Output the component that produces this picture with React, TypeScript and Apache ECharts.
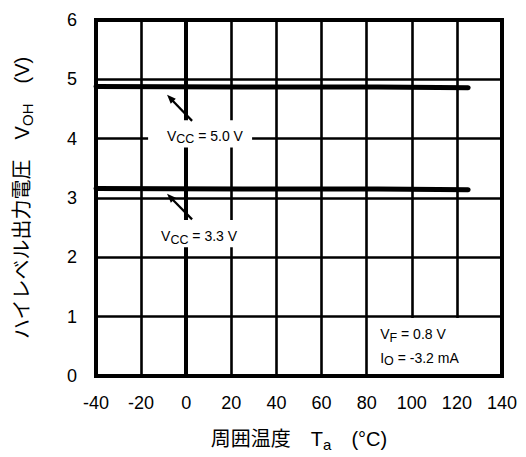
import React, { useEffect, useRef } from 'react';
import * as echarts from 'echarts';

// ---- data ----
const xTickValues = [-40, -20, 0, 20, 40, 60, 80, 100, 120, 140];
const yTickValues = [0, 1, 2, 3, 4, 5, 6];
const temperatures = [-40, 25, 85, 125];
const vcc50Values = [4.88, 4.87, 4.87, 4.86];
const vcc33Values = [3.16, 3.15, 3.15, 3.14];

const FONT = '"Liberation Sans", Arial, "Noto Sans CJK JP", sans-serif';

// annotation anchors in data coordinates
const ann50 = { text: [8.3, 4.05], box: [[-16.9, 4.31], [29.2, 3.85]], tail: [2.6, 4.3], head: [-8.5, 4.74] };
const ann33 = { text: [5.7, 2.36], box: [[-16.9, 2.63], [29.2, 2.17]], tail: [2.6, 2.64], head: [-8.5, 3.07] };
const condBox = [[80, 1], [140, 0]];
const condText1 = [86, 0.7];
const condText2 = [86, 0.31];

const subRich = {
  v: { fontSize: 14, lineHeight: 20, verticalAlign: 'middle', fontFamily: FONT, fill: '#000' },
  s: { fontSize: 12.5, lineHeight: 15, verticalAlign: 'bottom', fontFamily: FONT, fill: '#000' },
};

const nameRich = {
  t: { fontSize: 20, lineHeight: 26, verticalAlign: 'middle', fontFamily: FONT, color: '#000' },
  s: { fontSize: 15, lineHeight: 18, verticalAlign: 'bottom', fontFamily: FONT, color: '#000' },
};

export default function App() {
  const ref = useRef<HTMLDivElement>(null);
  useEffect(() => {
    if (!ref.current) return;
    const chart = echarts.init(ref.current, null, { renderer: 'svg' });
    const mkSeries = (vals: number[]) => ({
      type: 'line',
      data: temperatures.map((t, i) => [t, vals[i]]),
      symbol: 'none',
      lineStyle: { color: '#000', width: 5, cap: 'round' },
      z: 5,
    });
    chart.setOption({
      animation: false,
      grid: {
        left: 96, right: 24, top: 20, bottom: 74,
        show: true, borderColor: '#000', borderWidth: 4, backgroundColor: '#fff',
      },
      xAxis: {
        type: 'value', min: -40, max: 140, interval: 20,
        axisLine: { show: true, lineStyle: { color: '#000', width: 4 } },
        axisTick: { show: false },
        splitLine: { show: true, lineStyle: { color: '#000', width: 2.6 } },
        axisLabel: {
          color: '#000', fontSize: 18, fontFamily: FONT, margin: 18,
          formatter: (v: number) => (xTickValues.includes(v) ? String(v) : ''),
        },
        name: '{t|周囲温度　T}{s|a}{t|　(°C)}',
        nameLocation: 'middle',
        nameGap: 50,
        nameTextStyle: { color: '#000', fontSize: 20, fontFamily: FONT, rich: nameRich },
      },
      yAxis: {
        type: 'value', min: 0, max: 6, interval: 1,
        axisLine: { show: true, lineStyle: { color: '#000', width: 4 } },
        axisTick: { show: false },
        splitLine: { show: true, lineStyle: { color: '#000', width: 2.6 } },
        axisLabel: {
          color: '#000', fontSize: 18, fontFamily: FONT, margin: 19,
          formatter: (v: number) => (yTickValues.includes(v) ? String(v) : ''),
        },
        name: '{t|ハイレベル出力電圧　V}{s|OH}{t|　(V)}',
        nameLocation: 'middle',
        nameRotate: 90,
        nameGap: 61,
        nameTextStyle: { color: '#000', fontSize: 20, fontFamily: FONT, rich: nameRich },
      },
      series: [mkSeries(vcc50Values), mkSeries(vcc33Values)],
    });

    const px = (p: number[]) => chart.convertToPixel({ gridIndex: 0 }, p) as number[];
    const els: any[] = [];
    const addAnn = (a: any, label: string) => {
      const b0 = px(a.box[0]);
      const b1 = px(a.box[1]);
      els.push({
        type: 'rect', z: 50,
        shape: { x: b0[0], y: b0[1], width: b1[0] - b0[0], height: b1[1] - b0[1] },
        style: { fill: '#fff' },
      });
      const tp = px(a.text);
      els.push({
        type: 'text', z: 60, x: tp[0], y: tp[1],
        style: {
          text: `{v|V}{s|CC}{v| = ${label}}`,
          rich: subRich, align: 'center', verticalAlign: 'middle',
        },
      });
      const t = px(a.tail);
      const h = px(a.head);
      const dx = h[0] - t[0], dy = h[1] - t[1];
      const len = Math.hypot(dx, dy);
      const ux = dx / len, uy = dy / len;
      const nx = -uy, ny = ux;
      const L = 9, W = 3.5;
      els.push({
        type: 'line', z: 60,
        shape: { x1: t[0], y1: t[1], x2: h[0] - ux * L * 0.6, y2: h[1] - uy * L * 0.6 },
        style: { stroke: '#000', lineWidth: 2.2 },
      });
      els.push({
        type: 'polygon', z: 60,
        shape: { points: [[h[0], h[1]], [h[0] - ux * L + nx * W, h[1] - uy * L + ny * W], [h[0] - ux * L - nx * W, h[1] - uy * L - ny * W]] },
        style: { fill: '#000' },
      });
    };
    addAnn(ann50, '5.0 V');
    addAnn(ann33, '3.3 V');

    const c0 = px(condBox[0]);
    const c1 = px(condBox[1]);
    els.push({
      type: 'rect', z: 50,
      shape: { x: c0[0] + 1.4, y: c0[1] + 1.4, width: c1[0] - c0[0] - 3.4, height: c1[1] - c0[1] - 3.4 },
      style: { fill: '#fff' },
    });
    const ct1 = px(condText1);
    const ct2 = px(condText2);
    els.push({
      type: 'text', z: 60, x: ct1[0], y: ct1[1],
      style: { text: '{v|V}{s|F}{v| = 0.8 V}', rich: subRich, align: 'left', verticalAlign: 'middle' },
    });
    els.push({
      type: 'text', z: 60, x: ct2[0], y: ct2[1],
      style: { text: '{v|I}{s|O}{v| = -3.2 mA}', rich: subRich, align: 'left', verticalAlign: 'middle' },
    });
    chart.setOption({ graphic: { elements: els } });

    return () => chart.dispose();
  }, []);
  return (
    <div
      ref={ref}
      style={{ position: 'absolute', left: 0, top: 0, width: 526, height: 457, background: '#fff' }}
    />
  );
}
